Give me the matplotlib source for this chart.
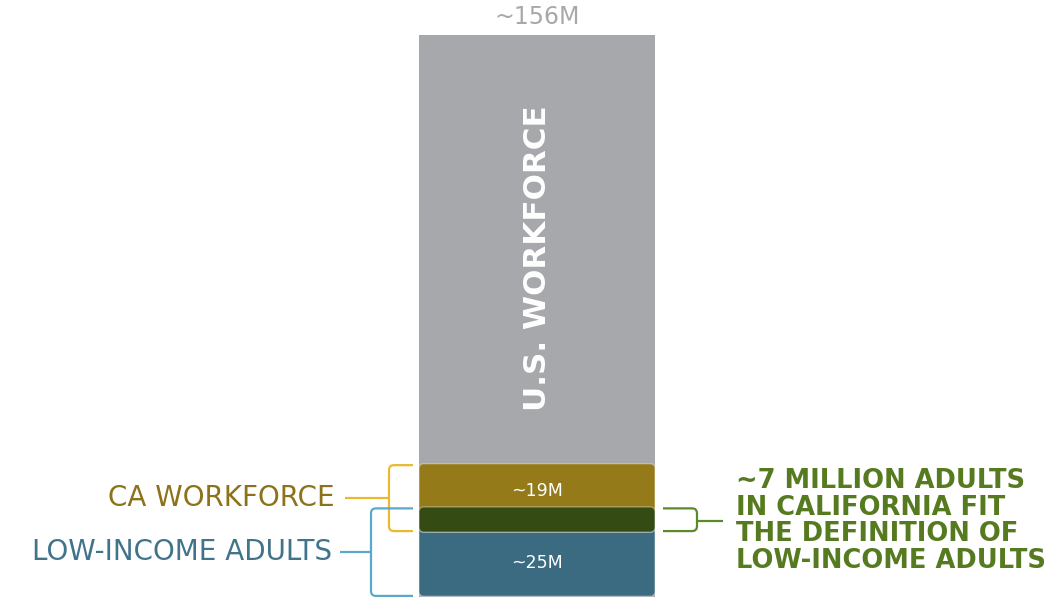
import matplotlib
matplotlib.use("Agg")
import matplotlib.pyplot as plt
from matplotlib.patches import FancyBboxPatch, PathPatch
from matplotlib.path import Path

# ---- data (millions) ----
us_workforce = 156
ca_workforce = 19
low_income = 25
overlap = 7

labels_bar = ["~156M", "~19M", "~25M"]
label_us = "U.S. WORKFORCE"
label_ca = "CA WORKFORCE"
label_low = "LOW-INCOME ADULTS"
label_overlap = "~7 MILLION ADULTS\nIN CALIFORNIA FIT\nTHE DEFINITION OF\nLOW-INCOME ADULTS"

# ---- colours ----
C_GRAY = "#A7A8AB"
C_GOLD = "#957A1A"
C_DGREEN = "#344C13"
C_BLUE = "#3A6B80"
C_GOLD_TXT = "#8C7219"
C_BLUE_TXT = "#41748A"
C_GREEN_TXT = "#557A1F"
C_YEL_LINE = "#E9B92F"
C_BLUE_LINE = "#5BA8C9"
C_GREEN_LINE = "#5C8A2B"

FONT = "DejaVu Sans"

W, H = 1062, 597
fig = plt.figure(figsize=(W / 100, H / 100), dpi=100)
ax = fig.add_axes([0, 0, 1, 1])
ax.set_xlim(0, W)
px_per_unit = 562 / us_workforce
ax.set_ylim(0, H / px_per_unit)
ax.axis("off")

x0, x1 = 419, 655
bw = x1 - x0
xc = (x0 + x1) / 2
asp = 1 / px_per_unit  # y-units per x-unit (pixel)

# gray bar (square)
ax.bar(xc, us_workforce, width=bw, bottom=0, color=C_GRAY, zorder=1)

def rbox(y0, h, color, z):
    p = FancyBboxPatch((x0, y0), bw, h,
                       boxstyle="round,pad=0,rounding_size=5",
                       mutation_aspect=asp, facecolor=color,
                       edgecolor=(1, 1, 1, 0.35), linewidth=1.0, zorder=z)
    ax.add_patch(p)

ca_bottom = low_income - overlap
rbox(0.2, low_income - 0.2, C_BLUE, 2)
rbox(ca_bottom, ca_workforce, C_GOLD, 3)
rbox(ca_bottom, overlap, C_DGREEN, 4)

def py(p):
    return (597 - p) / px_per_unit

# bar texts
ax.text(xc, py(17), labels_bar[0], ha="center", va="center",
        color=C_GRAY, fontsize=17, fontfamily=FONT, fontweight="medium")
ax.text(xc, py(491), labels_bar[1],
        ha="center", va="center", color="white", fontsize=12.5, fontfamily=FONT)
ax.text(xc, py(563), labels_bar[2], ha="center", va="center",
        color="white", fontsize=12.5, fontfamily=FONT)
ax.text(xc + 1, py(258), label_us, rotation=90, ha="center", va="center",
        color="white", fontsize=22.3, fontweight="bold", fontfamily=FONT)

# bracket helper
def bracket(xv, xtip, ytop, ybot, xconn, yconn, color, r=5):
    ry = r * asp
    s = 1 if xtip > xv else -1
    verts = [(xtip, ytop), (xv + s * r, ytop), (xv, ytop), (xv, ytop - ry),
             (xv, ybot + ry), (xv, ybot), (xv + s * r, ybot), (xtip, ybot)]
    codes = [Path.MOVETO, Path.LINETO, Path.CURVE3, Path.CURVE3,
             Path.LINETO, Path.CURVE3, Path.CURVE3, Path.LINETO]
    ax.add_patch(PathPatch(Path(verts, codes), facecolor="none", edgecolor=color,
                           linewidth=1.6, zorder=5, capstyle="butt"))
    ax.plot([xconn, xv], [yconn, yconn], color=color, lw=1.6, zorder=5,
            solid_capstyle="butt")

ca_top = ca_bottom + ca_workforce
# CA workforce bracket (yellow)
bracket(389, 413, ca_top - 0.4, ca_bottom + 0.3, 345, py(497.5), C_YEL_LINE)
# Low-income bracket (blue)
bracket(371, 413, low_income - 0.4, 0.3, 340, py(552), C_BLUE_LINE)
# overlap bracket (green, right)
bracket(697, 663, low_income - 0.4, ca_bottom + 0.3, 723, py(521), C_GREEN_LINE)

# side labels
ax.text(335, py(498.5), label_ca, ha="right", va="center", color=C_GOLD_TXT,
        fontsize=20, fontfamily=FONT)
ax.text(332, py(552.5), label_low, ha="right", va="center", color=C_BLUE_TXT,
        fontsize=20, fontfamily=FONT)
ax.text(736, py(521), label_overlap, ha="left", va="center", color=C_GREEN_TXT,
        fontsize=18.5, fontweight="bold", fontfamily=FONT, linespacing=1.02)

fig.savefig("out.png", dpi=100)
